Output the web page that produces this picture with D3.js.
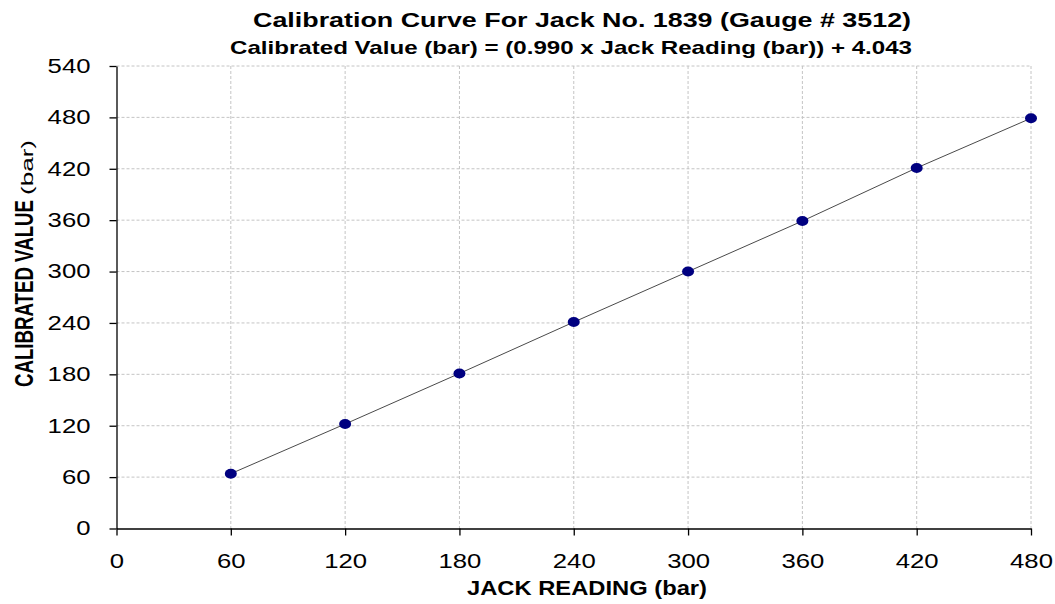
<!DOCTYPE html>
<html>
<head>
<meta charset="utf-8">
<script src="https://d3js.org/d3.v7.min.js"></script>
<style>
  body { margin: 0; background: #fff; }
  .grid line { stroke: #c4c4c4; stroke-dasharray: 3,2; }
  .tick text { font-family: "Liberation Sans", Arial, sans-serif; font-size: 20px; fill: #000; }
</style>
</head>
<body>
<svg width="1055" height="604"></svg>
<script>
// jack readings and calibrated values (bar)
const jackReading = [60, 120, 180, 240, 300, 360, 420, 480];
const calibrated = [64, 122, 181, 241, 300, 359, 421, 479];
const xTicks = [0, 60, 120, 180, 240, 300, 360, 420, 480];
const yTicks = [0, 60, 120, 180, 240, 300, 360, 420, 480, 540];

const svg = d3.select("svg");
const margin = {left: 116.5, right: 1031, top: 66, bottom: 528.5};

const x = d3.scaleLinear().domain([0, 480]).range([margin.left, margin.right]);
const y = d3.scaleLinear().domain([0, 540]).range([margin.bottom, margin.top]);

// gridlines
const grid = svg.append("g").attr("class", "grid");
grid.selectAll(".gx").data(xTicks.slice(1)).enter().append("line")
    .attr("x1", d => x(d)).attr("x2", d => x(d))
    .attr("y1", y(540)).attr("y2", y(0));
grid.selectAll(".gy").data(yTicks.slice(1)).enter().append("line")
    .attr("x1", x(0)).attr("x2", x(480))
    .attr("y1", d => y(d)).attr("y2", d => y(d));

// the reference font is stretched wide, so fit each label to its measured width
function stretch(sel) {
    sel.selectAll(".tick text")
        .attr("textLength", function() { return this.textContent.length * 14.3; })
        .attr("lengthAdjust", "spacingAndGlyphs");
}

// axes
svg.append("g")
    .attr("transform", `translate(0,${y(0)})`)
    .call(d3.axisBottom(x).tickValues(xTicks).tickSize(7).tickPadding(18).tickSizeOuter(0))
    .call(g => g.selectAll("line, path").attr("stroke", "#000").attr("stroke-width", 1.3))
    .call(stretch);

svg.append("g")
    .attr("transform", `translate(${x(0)},0)`)
    .call(d3.axisLeft(y).tickValues(yTicks).tickSize(7).tickPadding(19).tickSizeOuter(0))
    .call(g => g.selectAll("line, path").attr("stroke", "#000").attr("stroke-width", 1.3))
    .call(stretch);

// series line
const pts = jackReading.map((d, i) => [d, calibrated[i]]);
svg.append("path")
    .datum(pts)
    .attr("fill", "none")
    .attr("stroke", "#4a4a4a")
    .attr("stroke-width", 1)
    .attr("d", d3.line().x(d => x(d[0])).y(d => y(d[1])));

// markers
svg.selectAll(".pt").data(pts).enter().append("ellipse")
    .attr("cx", d => x(d[0])).attr("cy", d => y(d[1]))
    .attr("rx", 6).attr("ry", 5)
    .attr("fill", "#000080");

// titles
const font = "'Liberation Sans', Arial, sans-serif";
svg.append("text")
    .attr("x", 582).attr("y", 27)
    .attr("text-anchor", "middle")
    .attr("textLength", 658).attr("lengthAdjust", "spacingAndGlyphs")
    .style("font-family", font).style("font-size", "20px").style("font-weight", "bold")
    .text("Calibration Curve For Jack No. 1839 (Gauge # 3512)");
svg.append("text")
    .attr("x", 571).attr("y", 54)
    .attr("text-anchor", "middle")
    .attr("textLength", 682).attr("lengthAdjust", "spacingAndGlyphs")
    .style("font-family", font).style("font-size", "19px").style("font-weight", "bold")
    .text("Calibrated Value (bar) = (0.990 x Jack Reading (bar)) + 4.043");

svg.append("text")
    .attr("x", 587).attr("y", 595)
    .attr("text-anchor", "middle")
    .attr("textLength", 240).attr("lengthAdjust", "spacingAndGlyphs")
    .style("font-family", font).style("font-size", "21px").style("font-weight", "bold")
    .text("JACK READING (bar)");

svg.append("text")
    .attr("transform", "translate(33,387) rotate(-90)")
    .attr("textLength", 187).attr("lengthAdjust", "spacingAndGlyphs")
    .style("font-family", font).style("font-size", "26px").style("font-weight", "bold")
    .text("CALIBRATED VALUE");
svg.append("text")
    .attr("transform", "translate(33,195) rotate(-90)")
    .attr("textLength", 55).attr("lengthAdjust", "spacingAndGlyphs")
    .style("font-family", font).style("font-size", "17px")
    .text("(bar)");
</script>
</body>
</html>
